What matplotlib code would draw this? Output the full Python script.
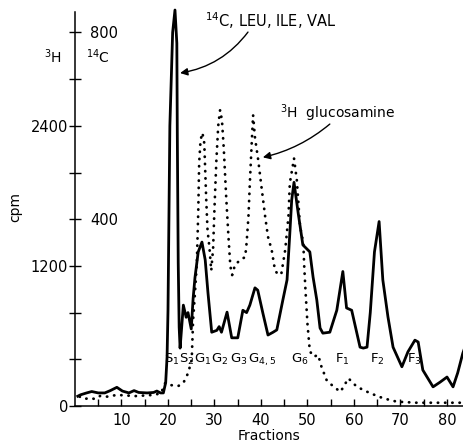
import numpy as np
import matplotlib
matplotlib.use('Agg')
import matplotlib.pyplot as plt

# 14C (leu, ile, val) - solid line, cpm on the 14C scale
frac_c = [0.6, 1.2, 2.5, 3.6, 5.0, 6.4, 7.6, 9.0, 10.2, 11.6, 12.7, 13.7, 15.5, 16.9, 17.6, 18.4,
          19.0, 19.5, 19.8, 20.0, 20.4, 21.0, 21.5, 21.9, 22.0, 22.2, 22.4, 22.6,
          23.3, 23.9, 24.3, 25.0, 25.4, 25.8, 26.5, 27.3, 28.0, 28.6, 29.4,
          30.5, 31.0, 31.5, 32.7, 33.7, 35.0, 36.1, 36.9, 37.6, 38.7, 39.3, 40.4, 41.5,
          42.6, 43.4, 44.7, 45.6, 46.2, 46.6, 47.1, 48.0, 49.0, 50.5, 51.2, 52.0, 52.7, 53.3,
          54.8, 56.3, 57.6, 58.4, 59.5, 61.3, 62.0, 62.8, 63.5, 64.4, 65.4, 66.2, 67.3, 68.4,
          70.3, 71.6, 73.1, 73.8, 74.8, 77.0, 78.5, 80.0, 81.3, 82.3, 83.4, 84.0]
c14 = [21, 24, 28, 31, 28, 28, 33, 40, 32, 28, 33, 29, 28, 29, 32, 28,
       28, 50, 105, 205, 600, 800, 848, 777, 584, 306, 169, 124,
       216, 190, 200, 165, 230, 275, 330, 351, 313, 242, 158,
       162, 170, 158, 201, 146, 146, 205, 200, 216, 253, 248, 199, 152,
       158, 163, 227, 270, 370, 441, 479, 413, 345, 330, 276, 227, 167, 156,
       158, 205, 288, 210, 205, 126, 124, 126, 200, 330, 395, 270, 191, 126,
       84, 116, 141, 137, 77, 41, 51, 62, 41, 71, 113, 130]

# 3H glucosamine - dotted line, cpm on the 3H scale
frac_h = [1.0, 2.0, 3.2, 4.3, 5.4, 7.0, 9.0, 11.0, 13.0, 15.0, 17.0, 18.5, 19.4, 20.4, 22.2,
          23.3, 24.3, 25.1, 25.4, 25.8, 26.2, 26.5, 26.7, 27.0, 27.4, 27.8, 28.2, 28.5, 28.9,
          29.3, 29.7, 30.0, 30.4, 30.8, 31.2, 31.6, 32.0, 32.5, 33.0, 33.4, 33.8, 34.4, 35.5,
          36.6, 36.9, 37.3, 37.6, 38.0, 38.3, 38.7, 39.4, 40.1, 40.9, 41.5, 42.3, 43.0, 43.7,
          44.4, 45.2, 45.9, 46.2, 46.8, 47.1, 47.7, 48.4, 49.1, 49.3, 49.6, 50.0, 50.5, 51.3,
          52.3, 53.0, 54.1, 55.6, 57.1, 58.8, 60.6, 63.4, 66.3, 69.2, 73.5, 80.6, 84.0]
h3 = [80, 60, 68, 60, 86, 80, 95, 90, 85, 90, 95, 110, 197, 180, 171,
      197, 280, 394, 737, 968, 1225, 1653, 2081, 2278, 2340, 2252, 1790, 1507, 1362,
      1160, 1350, 1700, 2100, 2400, 2535, 2450, 2200, 1800, 1450, 1200, 1122, 1208, 1250,
      1276, 1396, 1621, 1910, 2250, 2492, 2300, 2107, 1878, 1621, 1450, 1336, 1165, 1122,
      1139, 1336, 1621, 1910, 2050, 2121, 1936, 1536, 1396, 1193, 966, 700, 470, 422,
      437, 337, 223, 165, 122, 237, 165, 111, 66, 37, 28, 28, 28]

peak_names = ['S$_1$', 'S$_2$', 'G$_1$', 'G$_2$', 'G$_3$', 'G$_{4,5}$', 'G$_6$', 'F$_1$', 'F$_2$', 'F$_3$']
peak_pos = [20.8, 24.1, 27.5, 31.0, 35.2, 40.3, 48.3, 57.4, 65.0, 73.0]

xticks_major = [10, 20, 30, 40, 50, 60, 70, 80]
h_labels = {0: '0', 1200: '1200', 2400: '2400'}
c_labels = [400, 800]

fig = plt.figure(figsize=(4.64, 4.47), dpi=100)
ax = fig.add_axes([75/464, 41/447, 389/464, 394/447])
ax2 = ax.twinx()

ax.plot(frac_h, h3, color='black', lw=2.0, linestyle=(0, (0.1, 2.5)), dash_capstyle='round')
ax2.plot(frac_c, c14, color='black', lw=2.0, solid_joinstyle='round', clip_on=False)

ytop = 3375
ax.set_xlim(0, 389/4.65)
ax.set_ylim(0, ytop)
ax2.set_ylim(0, ytop/4)

for s in ['top', 'right']:
    ax.spines[s].set_visible(False)
for s in ['top', 'left', 'bottom']:
    ax2.spines[s].set_visible(False)
ax2.spines['right'].set_position(('axes', 0))
ax2.spines['right'].set_visible(False)

# x axis
xt = np.arange(5, 85, 5)
ax.set_xticks(xt)
ax.set_xticklabels([str(int(v)) if v in xticks_major else '' for v in xt])
ax.tick_params(axis='x', direction='in', length=5, width=1, labelsize=10.5, pad=5)
ax.set_xlabel('Fractions', fontsize=10, labelpad=1)

# 3H scale (left side)
yt = np.arange(0, ytop, 400)
ax.set_yticks(yt)
ax.set_yticklabels([h_labels.get(int(v), '') for v in yt])
ax.tick_params(axis='y', direction='inout', length=8, width=1, labelsize=10.5, pad=1)

# 14C scale, labels inside the spine
ax2.set_yticks(c_labels)
ax2.set_yticklabels([str(v) for v in c_labels])
ax2.tick_params(axis='y', length=0, labelsize=10.5, pad=11)

ax.spines['left'].set_linewidth(1.1)
ax.spines['bottom'].set_linewidth(1.1)

fig.text(53/464, 1 - 57/447, '$^3$H', fontsize=10, ha='center', va='center')
fig.text(98/464, 1 - 57/447, '$^{14}$C', fontsize=10, ha='center', va='center')
fig.text(15/464, 1 - 207/447, 'cpm', fontsize=10, rotation=90, ha='center', va='center')

for name, pos in zip(peak_names, peak_pos):
    ax.text(pos, 400, name, fontsize=9.5, ha='center', va='center')

ax.annotate('', xy=(22.6, 2852), xytext=(37.2, 3203),
            arrowprops=dict(arrowstyle='-|>', connectionstyle='arc3,rad=-0.2',
                            lw=1, color='black', mutation_scale=11, shrinkA=0, shrinkB=0))
ax.text(28.0, 3300, '$^{14}$C, LEU, ILE, VAL', fontsize=10.5, ha='left', va='center')

ax.annotate('', xy=(40.4, 2130), xytext=(54.8, 2415),
            arrowprops=dict(arrowstyle='-|>', connectionstyle='arc3,rad=-0.12',
                            lw=1, color='black', mutation_scale=11, shrinkA=0, shrinkB=0))
ax.text(44.1, 2510, '$^3$H  glucosamine', fontsize=10, ha='left', va='center')

fig.savefig('out.png', dpi=100)
